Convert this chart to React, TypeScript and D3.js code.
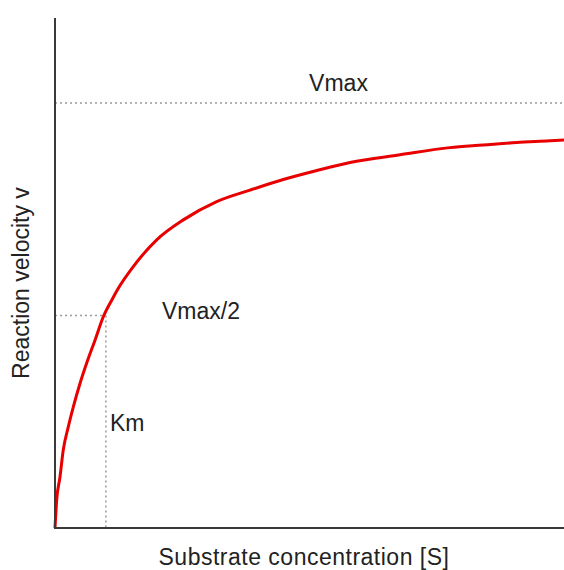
import React from "react";
import * as d3 from "d3";

const substrate = [0, 0.033, 0.098, 0.163, 0.261, 0.36, 0.491, 0.623, 0.786, 0.949, 1.114, 1.244, 1.538, 1.998, 2.521, 3.177, 3.831, 4.485, 5.141, 5.796, 6.778, 7.76, 8.41, 9.07, 9.72, 10];
const velocity = [0, 0.066, 0.12, 0.184, 0.238, 0.285, 0.34, 0.388, 0.442, 0.497, 0.536, 0.564, 0.615, 0.678, 0.725, 0.768, 0.795, 0.82, 0.841, 0.86, 0.878, 0.895, 0.901, 0.907, 0.911, 0.913];
const vmax = 1;
const km = 1;
const labels = { vmax: "Vmax", half: "Vmax/2", km: "Km", x: "Substrate concentration [S]", y: "Reaction velocity v" };

const W = 564, H = 570;
const FONT = "'Liberation Sans', Arial, sans-serif";

export default function App() {
  const x = d3.scaleLinear().domain([0, 10]).range([55, 564]);
  const y = d3.scaleLinear().domain([0, 1.2]).range([528, 18]);
  const pts = substrate.map((s, i) => [s, velocity[i]] as [number, number]);
  const line = d3.line<[number, number]>().x(d => x(d[0])).y(d => y(d[1])).curve(d3.curveMonotoneX);
  const dotted = { stroke: "#9a9a9a", strokeWidth: 1.5, strokeDasharray: "2,3" };
  return (
    <svg width={W} height={H} style={{ position: "absolute", left: 0, top: 0, background: "#fff" }}>
      <line x1={x(0)} x2={x(10)} y1={y(vmax)} y2={y(vmax)} {...dotted} />
      <line x1={x(0)} x2={x(0.98)} y1={y(vmax / 2)} y2={y(vmax / 2)} {...dotted} />
      <line x1={x(km)} x2={x(km)} y1={y(vmax / 2)} y2={y(0)} {...dotted} />
      <path d={line(pts) || ""} fill="none" stroke="#e80000" strokeWidth={3} strokeLinejoin="round" />
      <line x1={x(0)} x2={x(0)} y1={y(1.2)} y2={y(0) + 1} stroke="#3a3a3a" strokeWidth={2} />
      <line x1={x(0) - 1} x2={x(10)} y1={y(0)} y2={y(0)} stroke="#3a3a3a" strokeWidth={2} />
      <g fontFamily={FONT} fontSize={23} fill="#222">
        <text x={338.5} y={91} textAnchor="middle">{labels.vmax}</text>
        <text x={162} y={319}>{labels.half}</text>
        <text x={x(km) + 4} y={431}>{labels.km}</text>
        <text x={304} y={565} textAnchor="middle" letterSpacing={0.5}>{labels.x}</text>
        <text transform={`translate(29,283) rotate(-90)`} textAnchor="middle">{labels.y}</text>
      </g>
    </svg>
  );
}
